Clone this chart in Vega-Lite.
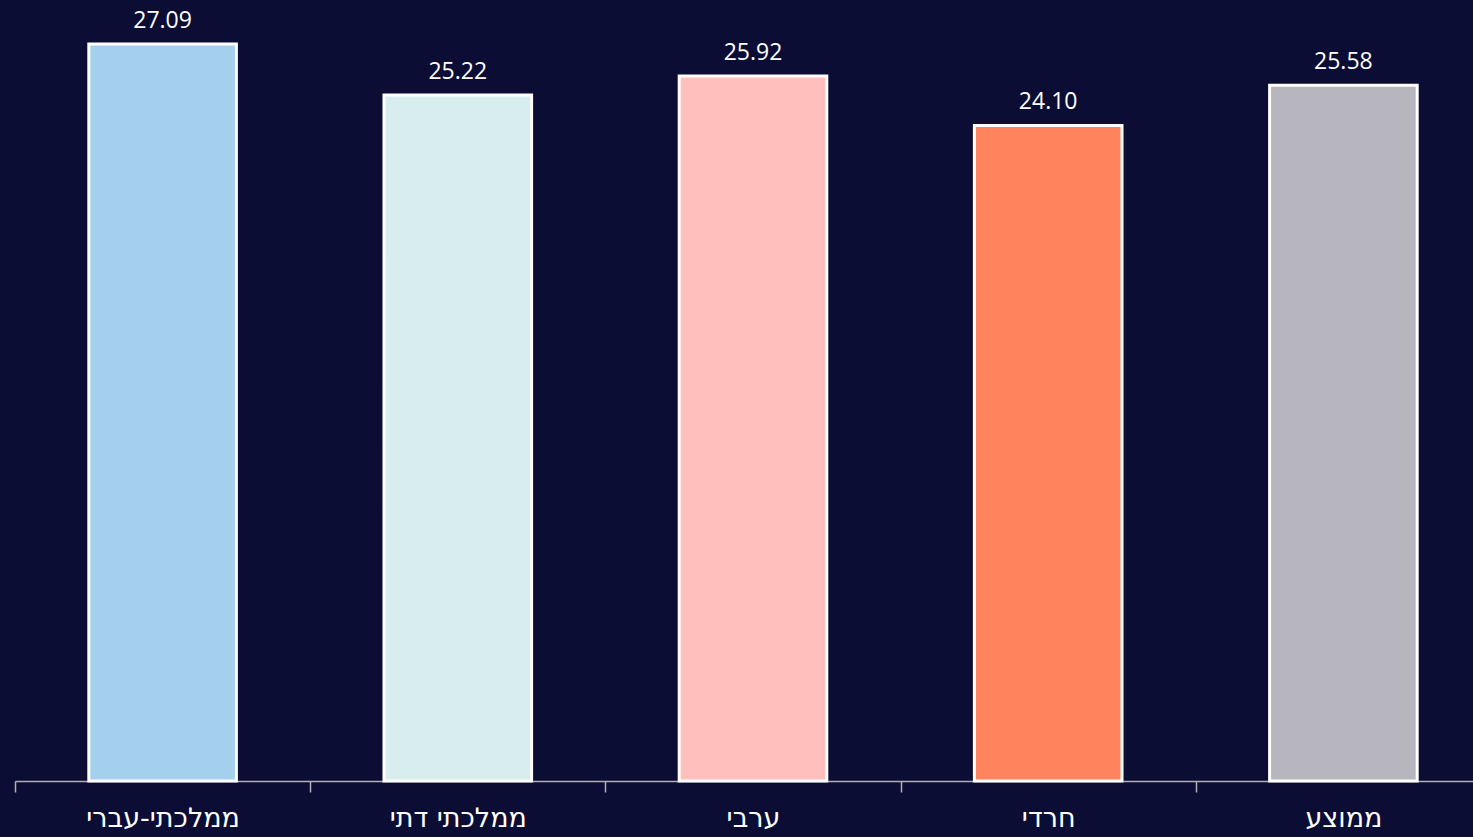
{
  "$schema": "https://vega.github.io/schema/vega-lite/v6.json",
  "autosize": {"type": "none"},
  "width": 1476,
  "height": 781,
  "padding": {"left": 15, "top": 0, "right": 0, "bottom": 56},
  "background": "#0b0d35",
  "config": {"view": {"stroke": null}, "font": "Open Sans"},
  "data": {"values": [
    {"group": "ממלכתי-עברי", "value": 27.09, "label": "27.09", "color": "#a5d0ed"},
    {"group": "ממלכתי דתי", "value": 25.22, "label": "25.22", "color": "#d8eeee"},
    {"group": "ערבי", "value": 25.92, "label": "25.92", "color": "#ffbfbc"},
    {"group": "חרדי", "value": 24.10, "label": "24.10", "color": "#ff845e"},
    {"group": "ממוצע", "value": 25.58, "label": "25.58", "color": "#b7b6be"}
  ]},
  "encoding": {
    "x": {"field": "group", "type": "nominal", "sort": null,
      "scale": {"paddingInner": 0, "paddingOuter": 0},
      "axis": {"title": null, "labelAngle": 0, "tickBand": "extent", "domainColor": "#b0b0b8", "tickColor": "#b0b0b8", "tickSize": 11, "tickWidth": 1.5, "domainWidth": 1.5, "labelColor": "#ffffff", "labelFontSize": 27, "labelPadding": 13, "labelFont": "DejaVu Sans"}},
    "y": {"field": "value", "type": "quantitative", "scale": {"domain": [0, 28.71], "nice": false}, "axis": null}
  },
  "layer": [
    {"mark": {"type": "bar", "stroke": "#ffffff", "strokeWidth": 3, "width": {"band": 0.5}},
     "encoding": {"color": {"field": "color", "type": "nominal", "scale": null}}},
    {"mark": {"type": "text", "dy": -23, "fontSize": 23, "color": "#ffffff", "font": "Open Sans"},
     "encoding": {"text": {"field": "label"}}}
  ]
}
